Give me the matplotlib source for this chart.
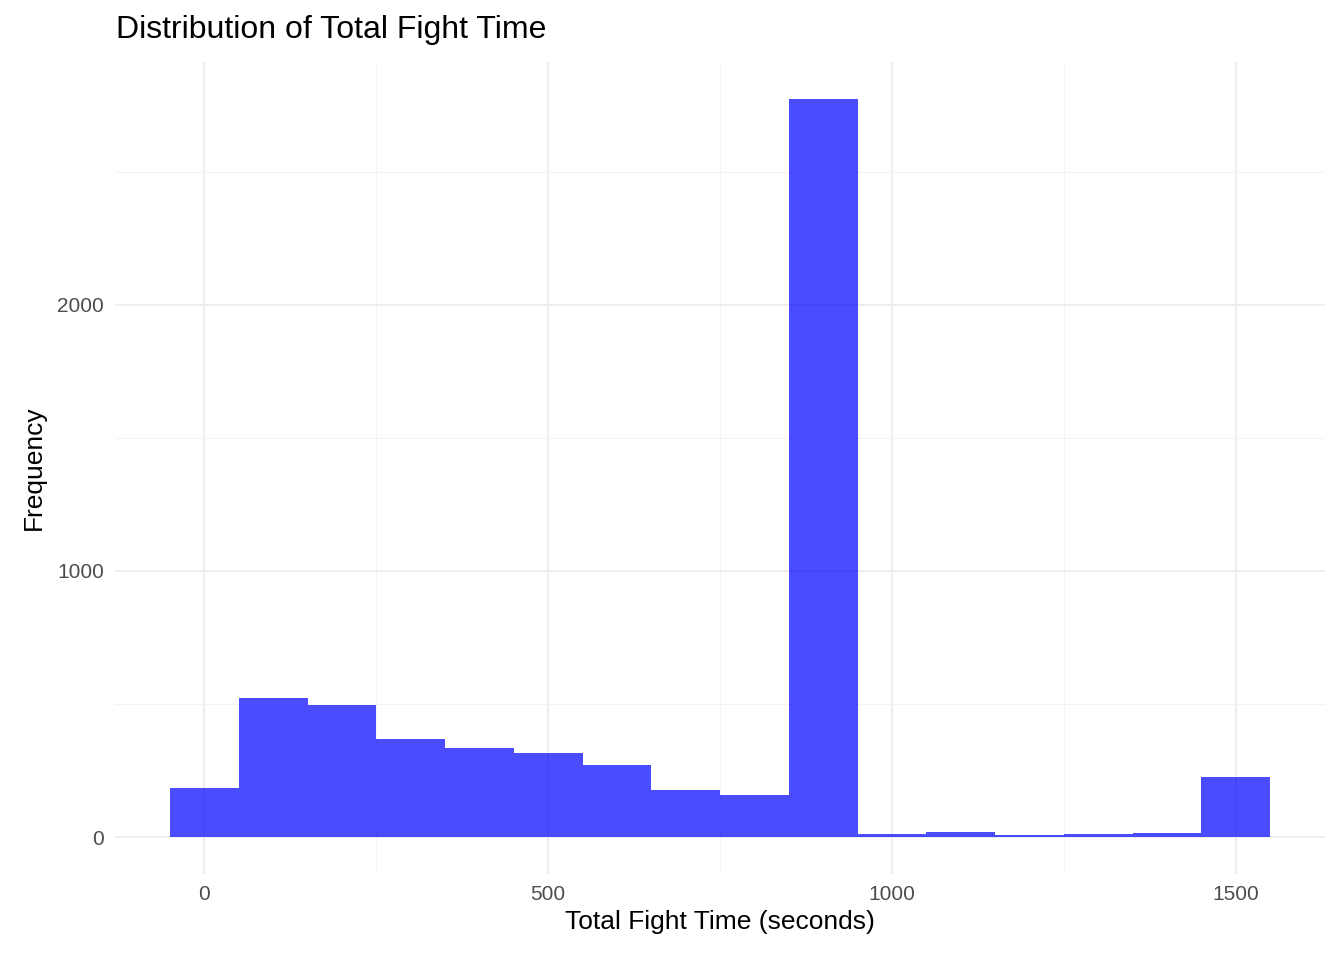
import matplotlib
matplotlib.use("Agg")
import matplotlib.pyplot as plt
import numpy as np

bin_centers = [0,100,200,300,400,500,600,700,800,900,1000,1100,1200,1300,1400,1500]
counts = [184,523,496,368,335,316,271,177,158,2774,11,19,7,11,15,226]
bin_width = 100

plt.rcParams['font.family'] = ['Liberation Sans', 'DejaVu Sans']
fig = plt.figure(figsize=(13.44, 9.6), dpi=100)
ax = fig.add_axes([115/1344, 1-874/960, (1325-115)/1344, (874-62)/960])
ax.bar(bin_centers, counts, width=bin_width, color='blue', alpha=0.7, linewidth=0, zorder=2)
ax.set_xlim(-130, 1630)
ax.set_ylim(-139, 2913)
ax.set_xticks([0, 500, 1000, 1500])
ax.set_yticks([0, 1000, 2000])
ax.set_xticks([250, 750, 1250], minor=True)
ax.set_yticks([500, 1500, 2500], minor=True)
ax.grid(True, which='major', color='#ebebeb', linewidth=1.2, zorder=0)
ax.grid(True, which='minor', color='#f3f3f3', linewidth=0.8, zorder=0)
ax.set_axisbelow(True)
for s in ax.spines.values():
    s.set_visible(False)
ax.tick_params(which='both', length=0, labelsize=15, labelcolor='#4d4d4d', pad=8)
ax.set_xlabel('Total Fight Time (seconds)', fontsize=19, labelpad=4)
ax.set_ylabel('Frequency', fontsize=19, labelpad=8)
fig.text(116/1344, 1-30/960, 'Distribution of Total Fight Time', fontsize=23, va='center')
fig.savefig('out.png', dpi=100, facecolor='white')
